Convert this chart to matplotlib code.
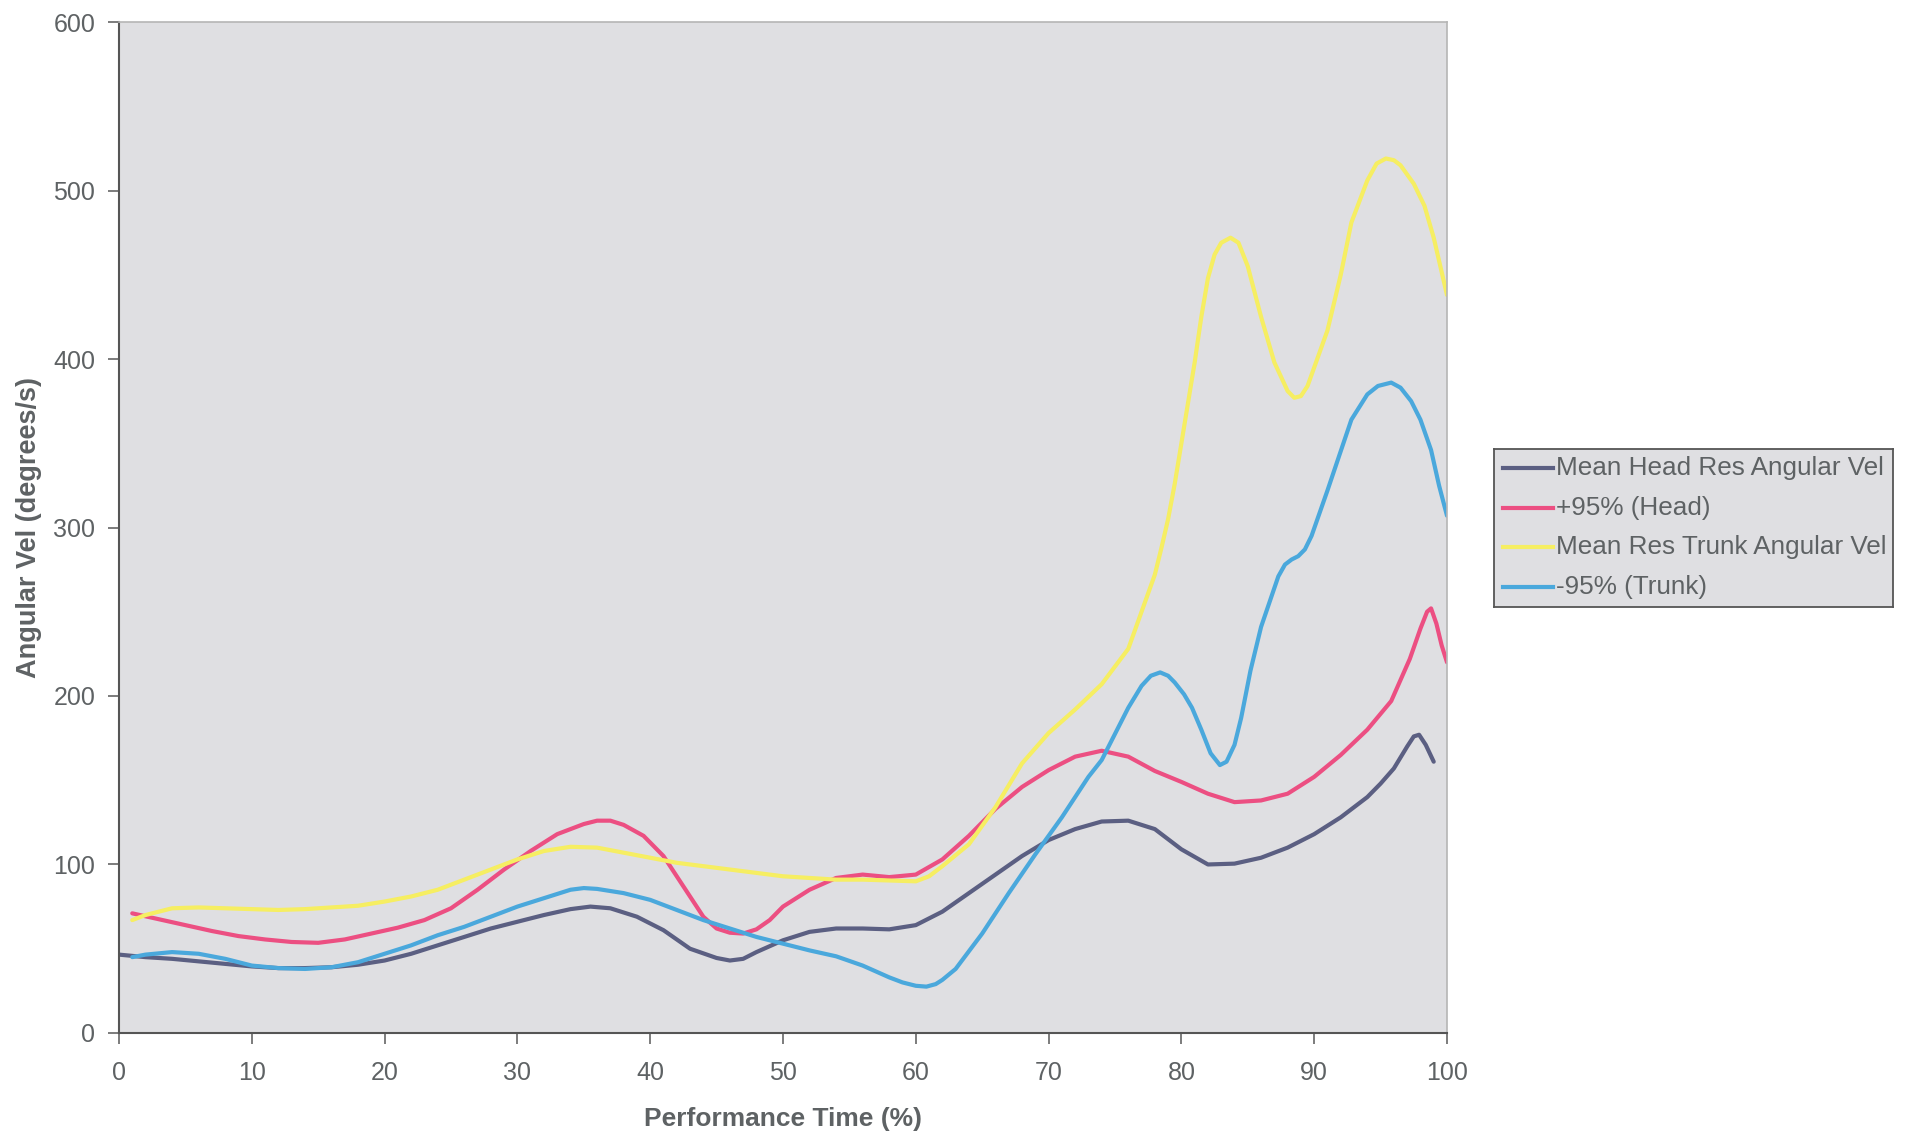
import matplotlib
matplotlib.use("Agg")
import matplotlib.pyplot as plt

plt.rcParams['font.family'] = ['Liberation Sans', 'DejaVu Sans']

# Mean Head Res Angular Vel
head_x = [0, 2, 4, 6, 8, 10, 12, 14, 16, 18, 20, 22, 24, 26, 28, 30, 32, 34, 35.5, 37,
          39, 41, 43, 45, 46, 47, 48, 50, 52, 54, 56, 58, 60, 62, 64, 66, 68, 70, 72, 74,
          76, 78, 80, 82, 84, 86, 88, 90, 92, 94, 95, 96, 97, 97.5, 97.9, 98.4, 99]
head_y = [46.5, 45, 44, 42.5, 41, 39.5, 38.5, 38.5, 39, 40.5, 43, 47, 52, 57, 62, 66, 70,
          73.5, 75, 74, 69, 61, 50, 44.5, 43, 44, 48, 55, 60, 62, 62, 61.5, 64, 72, 83, 94,
          105, 114.5, 121, 125.5, 126, 121, 109, 100, 100.5, 104, 110, 118, 128, 140,
          148, 157, 170, 176, 177, 171, 161]

# +95% (Head)
head_hi_x = [1, 3, 5, 7, 9, 11, 13, 15, 17, 19, 21, 23, 25, 27, 29, 31, 33, 35, 36, 37,
             38, 39.5, 41, 42.5, 44, 45, 46, 47, 48, 49, 50, 52, 54, 56, 58, 60, 62, 64,
             66, 68, 70, 72, 74, 76, 78, 80, 82, 84, 86, 88, 90, 92, 94, 95.8, 97.2, 98,
             98.5, 98.8, 99.2, 99.6, 100]
head_hi_y = [71, 67.5, 64, 60.5, 57.5, 55.5, 54, 53.5, 55.5, 59, 62.5, 67, 74, 85, 97, 108,
             118, 124, 126, 126, 123.5, 117, 105, 87, 69, 62, 59.5, 59, 61.5, 67, 75, 85,
             92, 94, 92.5, 94, 103, 117, 133, 146, 156, 164, 167.5, 164, 155.5, 149, 142,
             137, 138, 142, 152, 165, 180, 197, 222, 240, 250, 252, 243, 230, 220]

# Mean Res Trunk Angular Vel
trunk_x = [1, 2, 4, 6, 8, 10, 12, 14, 16, 18, 20, 22, 24, 26, 28, 30, 32, 34, 36, 38, 40,
           42, 44, 46, 48, 50, 52, 54, 56, 58, 60, 61, 62, 64, 66, 68, 70, 72, 74, 76, 77,
           78, 78.5, 79, 79.5, 80, 80.5, 81, 81.5, 82, 82.5, 83, 83.7, 84.3, 85, 85.5, 86,
           87, 88, 88.5, 89, 89.5, 90, 91, 92, 92.8, 94, 94.7, 95.4, 96, 96.5, 97.5, 98.3,
           99, 99.5, 100]
trunk_y = [67, 70, 74, 74.5, 74, 73.5, 73, 73.5, 74.5, 75.5, 78, 81, 85, 91, 97, 103, 108,
           110.5, 110, 107, 104, 101, 99, 97, 95, 93, 92, 91, 91, 90.5, 90, 93, 99, 112,
           134, 160, 178, 192, 207, 228, 250, 272, 288, 305, 326, 350, 374, 398, 425, 448,
           462, 469, 472, 469, 455, 440, 425, 398, 381, 377, 378, 384, 395, 417, 450, 481,
           506, 516, 519, 518, 515, 504, 491, 472, 455, 438]

# -95% (Trunk)
trunk_lo_x = [1, 2, 4, 6, 8, 10, 12, 14, 16, 18, 20, 22, 24, 26, 28, 30, 32, 34, 35, 36, 38,
              40, 42, 44, 46, 48, 50, 52, 54, 56, 58, 59, 60, 60.8, 61.5, 62, 63, 65, 67,
              69, 71, 73, 74, 76, 77, 77.7, 78.4, 79, 79.5, 80.2, 80.8, 81.5, 82.2, 82.9,
              83.4, 84, 84.5, 85.2, 86, 87.3, 87.8, 88.3, 88.8, 89.3, 89.8, 91, 92.8, 94,
              94.8, 95.8, 96.5, 97.3, 98, 98.8, 99.4, 100]
trunk_lo_y = [45, 46.5, 48, 47, 44, 40, 38.5, 38, 39, 42, 47, 52, 58, 63, 69, 75, 80, 85,
              86, 85.5, 83, 79, 73, 67, 62, 57, 53, 49, 45.5, 40, 33, 30, 28, 27.5, 29,
              31.5, 38, 59, 83, 106, 128, 152, 162, 193, 206, 212, 214, 212, 208, 201, 193,
              180, 166, 159, 161, 171, 187, 215, 241, 271, 278, 281, 283, 287, 295, 322,
              364, 379, 384, 386, 383, 375, 364, 346, 325, 307]

labels = ['Mean Head Res Angular Vel', '+95% (Head)',
          'Mean Res Trunk Angular Vel', '-95% (Trunk)']
colors = ['#5b5f82', '#ec4f82', '#f6ee62', '#4aa8dc']
x_ticks = [0, 10, 20, 30, 40, 50, 60, 70, 80, 90, 100]
y_ticks = [0, 100, 200, 300, 400, 500, 600]

txt = '#5e6264'

fig = plt.figure(figsize=(19.13, 11.36), dpi=100)
ax = fig.add_axes([0.0622, 0.0907, 0.6942, 0.8899])
ax.set_facecolor('#dfdfe2')

series = [(head_x, head_y), (head_hi_x, head_hi_y),
          (trunk_x, trunk_y), (trunk_lo_x, trunk_lo_y)]
lines = []
for (xs, ys), c, lab in zip(series, colors, labels):
    ln, = ax.plot(xs, ys, color=c, lw=3.0, label=lab,
                  solid_capstyle='round', solid_joinstyle='round')
    lines.append(ln)

ax.set_xlim(0, 100)
ax.set_ylim(0, 600)
ax.set_xticks(x_ticks)
ax.set_yticks(y_ticks)
ax.tick_params(axis='both', direction='out', length=8, width=1.2,
               colors='#666666', labelcolor=txt, labelsize=18)
ax.tick_params(axis='x', pad=12)
ax.tick_params(axis='y', pad=9)
for s in ['left', 'bottom']:
    ax.spines[s].set_color('#555555')
    ax.spines[s].set_linewidth(1.5)
for s in ['top', 'right']:
    ax.spines[s].set_color('#b5b5b5')
    ax.spines[s].set_linewidth(1.2)

ax.set_xlabel('Performance Time (%)', fontsize=19, fontweight='bold',
              color=txt, labelpad=16)
ax.set_ylabel('Angular Vel (degrees/s)', fontsize=19.5, fontweight='bold',
              color=txt, labelpad=8)

# legend box, cut at the right edge like the scan
W, H = 1913.0, 1136.0
lx0, lx1, ly0, ly1 = 1494, 1893, 449, 607
lax = fig.add_axes([lx0 / W, 1 - ly1 / H, (lx1 - lx0) / W, (ly1 - ly0) / H])
lax.set_facecolor('#dfdfe2')
lax.set_xlim(lx0, lx1)
lax.set_ylim(ly1, ly0)
lax.set_xticks([])
lax.set_yticks([])
for s in lax.spines.values():
    s.set_color('#555555')
    s.set_linewidth(1.3)

row_y = [468, 508, 547, 587]
for ln, lab, yy in zip(lines, labels, row_y):
    lax.plot([1503, 1553], [yy, yy], color=ln.get_color(), lw=3.0)
    lax.text(1556, yy, lab, fontsize=18.8, color=txt, va='center', ha='left',
             clip_on=True)

fig.savefig('out.png', dpi=100, facecolor='white')
